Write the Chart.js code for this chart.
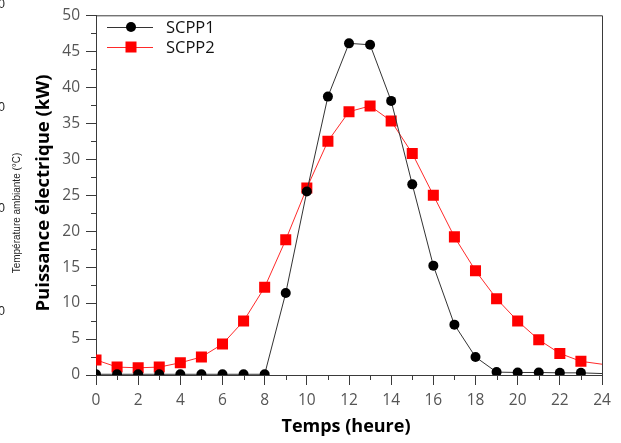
<!DOCTYPE html>
<html>
<head>
<meta charset="utf-8">
<script src="https://cdn.jsdelivr.net/npm/chart.js@4"></script>
<style>
html,body{margin:0;padding:0;background:#fff;}
#wrap{position:relative;width:621px;height:443px;}
</style>
</head>
<body>
<div id="wrap"><canvas id="c" width="621" height="443"></canvas></div>
<script>
const hours = [0,1,2,3,4,5,6,7,8,9,10,11,12,13,14,15,16,17,18,19,20,21,22,23,24];
const scpp1 = [0.1,0.1,0.1,0.1,0.1,0.1,0.1,0.1,0.1,11.4,25.5,38.7,46.1,45.9,38.1,26.5,15.2,7.0,2.5,0.4,0.35,0.35,0.3,0.3,0.2];
const scpp2 = [2.1,1.1,1.0,1.1,1.7,2.5,4.3,7.5,12.2,18.8,26.0,32.5,36.6,37.4,35.3,30.8,25.0,19.2,14.5,10.6,7.5,4.9,3.0,1.9,1.5];
const seriesNames = ['SCPP1','SCPP2'];
const yTicks = [0,5,10,15,20,25,30,35,40,45,50];
const xTicks = [0,2,4,6,8,10,12,14,16,18,20,22,24];
const yTitle = 'Puissance électrique (kW)';
const xTitle = 'Temps (heure)';
const sideTitle = 'Température ambiante (°C)';

const pts = arr => arr.map((v,i)=>({x:hours[i], y:v}));
const radii = (r) => hours.map(h => h === 24 ? 0 : r);

const AXIS = '#3a3a3a';
const FONT = '"Open Sans", "Noto Sans", sans-serif';

const extras = {
  id:'extras',
  afterDraw(chart){
    const ctx = chart.ctx, a = chart.chartArea;
    const xs = chart.scales.x, ys = chart.scales.y;
    ctx.save();
    // top & right frame
    ctx.strokeStyle = AXIS; ctx.lineWidth = 1;
    ctx.beginPath();
    ctx.moveTo(a.left, a.top+0.5); ctx.lineTo(a.right+0.5, a.top+0.5);
    ctx.lineTo(a.right+0.5, a.bottom);
    ctx.stroke();
    // minor ticks
    ctx.beginPath();
    for (let v=2.5; v<50; v+=5){
      const y = Math.round(ys.getPixelForValue(v))+0.5;
      ctx.moveTo(a.left-5, y); ctx.lineTo(a.left, y);
    }
    for (let h=1; h<24; h+=2){
      const x = Math.round(xs.getPixelForValue(h))+0.5;
      ctx.moveTo(x, a.bottom); ctx.lineTo(x, a.bottom+5);
    }
    ctx.stroke();
    // axis titles
    ctx.fillStyle = '#000';
    ctx.font = 'bold 18px ' + FONT;
    ctx.textAlign = 'center'; ctx.textBaseline = 'middle';
    ctx.fillText(xTitle, 346, 427);
    ctx.save();
    ctx.translate(44, 193); ctx.rotate(-Math.PI/2);
    ctx.font = 'bold 18.5px ' + FONT;
    ctx.fillText(yTitle, 0, 0);
    ctx.restore();
    // legend
    const leg = [
      {y:27, color:'#333', fill:'#000', style:'circle', name:seriesNames[0]},
      {y:47, color:'#ff2a2a', fill:'#ff0000', style:'rect', name:seriesNames[1]}
    ];
    leg.forEach(l=>{
      ctx.strokeStyle = l.color; ctx.lineWidth = 1;
      ctx.beginPath(); ctx.moveTo(107, l.y+0.5); ctx.lineTo(153, l.y+0.5); ctx.stroke();
      ctx.fillStyle = l.fill;
      if (l.style==='circle'){ ctx.beginPath(); ctx.arc(131, l.y, 5, 0, Math.PI*2); ctx.fill(); }
      else { ctx.fillRect(131-5.5, l.y-5.5, 11, 11); }
      ctx.fillStyle = '#111';
      ctx.font = '16.5px ' + FONT;
      ctx.textAlign = 'left'; ctx.textBaseline = 'middle';
      ctx.fillText(l.name, 166, l.y+1);
    });
    // residual text from neighbouring panel
    ctx.fillStyle = '#222';
    ctx.font = '12px "Liberation Sans", Arial, sans-serif';
    ctx.textAlign = 'right'; ctx.textBaseline = 'middle';
    [5, 108, 209, 312].forEach(y => ctx.fillText('0', 5, y));
    ctx.font = '10px "Liberation Sans", Arial, sans-serif';
    ctx.textAlign = 'center';
    ctx.save();
    ctx.translate(17, 213); ctx.rotate(-Math.PI/2);
    ctx.fillText(sideTitle, 0, 0);
    ctx.restore();
    ctx.restore();
  }
};

new Chart(document.getElementById('c'), {
  type:'line',
  data:{
    datasets:[
      {label:seriesNames[0], data:pts(scpp1), borderColor:'#333', borderWidth:1,
       pointStyle:'circle', pointRadius:radii(5), pointBackgroundColor:'#000', pointBorderWidth:0,
       tension:0, order:1},
      {label:seriesNames[1], data:pts(scpp2), borderColor:'#ff2a2a', borderWidth:1,
       pointStyle:'rect', pointRadius:radii(7.8), pointBackgroundColor:'#ff0000', pointBorderWidth:0,
       tension:0, order:2}
    ]
  },
  options:{
    responsive:false, animation:false, devicePixelRatio:1,
    layout:{padding:{top:11, right:19, left:0, bottom:0}},
    plugins:{legend:{display:false}, tooltip:{enabled:false}},
    scales:{
      x:{type:'linear', min:0, max:24,
        afterBuildTicks(s){ s.ticks = xTicks.map(v=>({value:v})); },
        afterFit(s){ s.height = 68; },
        grid:{drawOnChartArea:false, drawTicks:true, tickLength:10, tickColor:AXIS},
        border:{display:true, color:AXIS, width:1},
        ticks:{font:{family:FONT, size:15.5}, color:'#555', padding:6, maxRotation:0, autoSkip:false}
      },
      y:{type:'linear', min:0, max:50,
        afterBuildTicks(s){ s.ticks = yTicks.map(v=>({value:v})); },
        afterFit(s){ s.width = 96; },
        grid:{drawOnChartArea:false, drawTicks:true, tickLength:10, tickColor:AXIS},
        border:{display:true, color:AXIS, width:1},
        ticks:{font:{family:FONT, size:15.5}, color:'#555', padding:6, autoSkip:false}
      }
    }
  },
  plugins:[extras]
});
</script>
</body>
</html>
